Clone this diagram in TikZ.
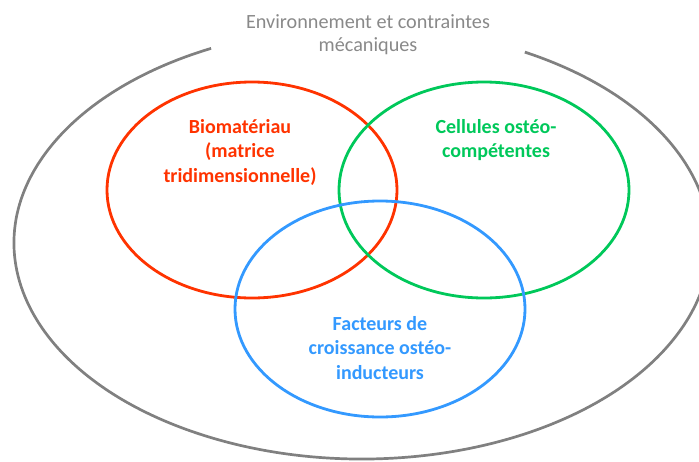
\documentclass[tikz,border=0pt]{standalone}
\usepackage{fontspec}
\setmainfont{Carlito}
\usetikzlibrary{shapes.geometric}
\definecolor{envgray}{RGB}{128,128,128}
\definecolor{envtext}{RGB}{137,137,137}
\definecolor{biored}{RGB}{255,51,0}
\definecolor{cellgreen}{RGB}{0,200,90}
\definecolor{factblue}{RGB}{51,153,255}
\tikzset{
  venn/.style={ellipse, minimum width=290pt, minimum height=216pt, line width=2.8pt, inner sep=0pt},
  lbl/.style={align=center, inner sep=0pt, font=\fontsize{20}{24.5}\selectfont\bfseries},
  envlbl/.style={align=center, inner sep=0pt, text=envtext, font=\fontsize{20.2}{23}\selectfont}
}
\begin{document}
\begin{tikzpicture}[x=1pt,y=-1pt]
\useasboundingbox (0,0) rectangle (699,461);
\clip (0,0) rectangle (699,461);
\coordinate (envc) at (362,243);
\draw[envgray, line width=2.7pt] (envc) ++(-62.1:348 and 216)
  arc[start angle=-62.1, end angle=244.3, x radius=348, y radius=216];
\node[envlbl] (env) at (368,35) {Environnement et contraintes\\mécaniques};
\node[venn, draw=biored] (bio) at (252,190) {};
\node[venn, draw=cellgreen] (cell) at (484,190) {};
\node[venn, draw=factblue] (fact) at (380,309) {};
\node[lbl, text=biored] (biot) at (240,152) {Biomatériau\\(matrice\\tridimensionnelle)};
\node[lbl, text=cellgreen] (cellt) at (496,140) {Cellules ostéo-\\compétentes};
\node[lbl, text=factblue] (factt) at (380,348) {Facteurs de\\croissance ostéo-\\inducteurs};
\end{tikzpicture}
\end{document}
